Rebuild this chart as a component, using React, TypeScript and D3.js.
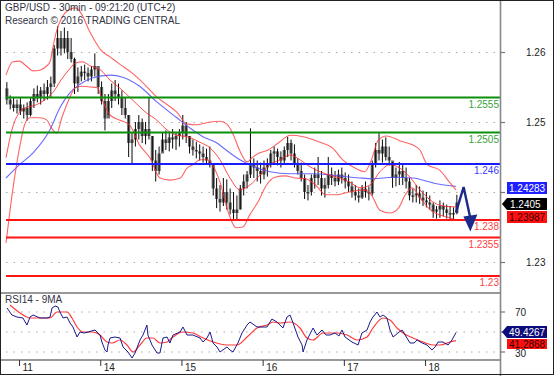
import React from 'react';
import * as d3 from 'd3';

// hourly bars (GBP/USD, 30min chart shown with one bar per hour)
const hourHigh = [
  1.2577,1.2558,1.2555,1.2552,1.2555,1.2545,1.2548,1.2555,1.2568,1.2572,
  1.2570,1.2575,1.2580,1.2585,1.2630,1.2657,1.2650,1.2655,1.2650,1.2640,
  1.2612,1.2598,1.2600,1.2602,1.2598,1.2600,1.2618,1.2595,1.2578,1.2560,
  1.2560,1.2575,1.2580,1.2575,1.2565,1.2555,1.2530,1.2505,1.2520,1.2530,
  1.2525,1.2520,1.2555,1.2500,1.2480,1.2485,1.2505,1.2508,1.2505,1.2510,
  1.2505,1.2510,1.2530,1.2520,1.2500,1.2495,1.2492,1.2488,1.2485,1.2482,
  1.2485,1.2460,1.2440,1.2430,1.2440,1.2438,1.2425,1.2420,1.2415,1.2430,
  1.2445,1.2450,1.2511,1.2468,1.2465,1.2462,1.2465,1.2468,1.2480,1.2485,
  1.2482,1.2478,1.2485,1.2499,1.2495,1.2488,1.2468,1.2462,1.2445,1.2430,
  1.2445,1.2455,1.2470,1.2450,1.2440,1.2470,1.2455,1.2450,1.2452,1.2455,
  1.2448,1.2445,1.2435,1.2430,1.2425,1.2430,1.2435,1.2428,1.2465,1.2490,
  1.2504,1.2495,1.2498,1.2485,1.2463,1.2455,1.2463,1.2460,1.2455,1.2440,
  1.2425,1.2430,1.2428,1.2422,1.2420,1.2415,1.2405,1.2400,1.2408,1.2405,
  1.2402,1.2400,1.2398,1.2416,
];
const hourLow = [
  1.2545,1.2538,1.2535,1.2532,1.2530,1.2525,1.2522,1.2528,1.2540,1.2548,
  1.2545,1.2550,1.2552,1.2555,1.2570,1.2615,1.2615,1.2618,1.2610,1.2605,
  1.2560,1.2563,1.2578,1.2580,1.2578,1.2578,1.2585,1.2560,1.2545,1.2508,
  1.2530,1.2540,1.2550,1.2545,1.2530,1.2525,1.2470,1.2459,1.2485,1.2495,
  1.2490,1.2488,1.2495,1.2450,1.2435,1.2445,1.2478,1.2480,1.2478,1.2482,
  1.2480,1.2485,1.2495,1.2490,1.2475,1.2472,1.2468,1.2465,1.2462,1.2460,
  1.2455,1.2415,1.2397,1.2392,1.2400,1.2395,1.2388,1.2381,1.2381,1.2395,
  1.2415,1.2425,1.2440,1.2440,1.2435,1.2432,1.2438,1.2442,1.2455,1.2460,
  1.2458,1.2455,1.2460,1.2470,1.2465,1.2455,1.2445,1.2435,1.2410,1.2408,
  1.2415,1.2425,1.2430,1.2415,1.2412,1.2425,1.2430,1.2428,1.2430,1.2432,
  1.2425,1.2420,1.2412,1.2408,1.2405,1.2410,1.2412,1.2408,1.2415,1.2455,
  1.2465,1.2462,1.2465,1.2458,1.2426,1.2428,1.2430,1.2430,1.2425,1.2408,
  1.2405,1.2405,1.2403,1.2400,1.2398,1.2395,1.2383,1.2382,1.2383,1.2385,
  1.2382,1.2381,1.2380,1.2388,
];
const hourClose = [
  1.2552,1.2545,1.2540,1.2545,1.2535,1.2540,1.2530,1.2550,1.2560,1.2555,
  1.2565,1.2560,1.2570,1.2575,1.2625,1.2640,1.2625,1.2640,1.2620,1.2610,
  1.2575,1.2585,1.2592,1.2590,1.2585,1.2595,1.2600,1.2570,1.2550,1.2525,
  1.2550,1.2565,1.2560,1.2555,1.2540,1.2530,1.2490,1.2495,1.2510,1.2520,
  1.2500,1.2510,1.2500,1.2465,1.2450,1.2475,1.2495,1.2490,1.2498,1.2495,
  1.2500,1.2505,1.2515,1.2500,1.2485,1.2480,1.2478,1.2475,1.2470,1.2465,
  1.2460,1.2425,1.2410,1.2405,1.2420,1.2405,1.2395,1.2390,1.2395,1.2425,
  1.2435,1.2445,1.2460,1.2455,1.2450,1.2445,1.2455,1.2460,1.2475,1.2478,
  1.2470,1.2465,1.2480,1.2490,1.2475,1.2460,1.2450,1.2440,1.2420,1.2420,
  1.2440,1.2445,1.2440,1.2425,1.2430,1.2445,1.2440,1.2435,1.2445,1.2440,
  1.2435,1.2428,1.2420,1.2415,1.2412,1.2425,1.2420,1.2418,1.2460,1.2480,
  1.2475,1.2485,1.2470,1.2465,1.2440,1.2445,1.2450,1.2440,1.2435,1.2415,
  1.2415,1.2418,1.2412,1.2408,1.2405,1.2402,1.2392,1.2395,1.2400,1.2395,
  1.2390,1.2388,1.2390,1.2405,
];
const firstOpen = 1.2568;

// indicator lines: [bar index (30min), price]
const bbUpper: [number, number][] = [
  [0,1.2587],[4,1.2606],[8,1.2607],[12,1.2600],[16,1.2593],[20,1.2594],[24,1.2600],[26,1.2606],
  [28,1.2630],[30,1.2651],[33,1.2669],[37,1.2680],[41,1.2683],[45,1.2673],[48.5,1.2654],[53,1.2634],
  [56,1.2623],[61.5,1.2613],[67,1.2603],[75,1.2589],[83,1.2571],[89,1.2556],[94,1.2547],[101,1.2534],
  [107,1.2517],[113,1.2516],[120.6,1.2520],[126.5,1.2521],[130.6,1.2517],[134,1.2504],[138,1.2480],
  [142.5,1.2463],[145.4,1.2469],[150,1.2476],[155,1.2480],[161,1.2490],[168,1.2501],[175.6,1.2499],
  [185.6,1.2491],[193,1.2483],[199,1.2466],[205,1.2456],[212,1.2449],[216,1.2466],[220,1.2494],
  [225,1.2500],[233,1.2493],[240.6,1.2487],[244.7,1.2480],[249,1.2459],[256.5,1.2451],[262.5,1.2433],[266,1.2423],
];
const bbMiddle: [number, number][] = [
  [0,1.2469],[4,1.2513],[8,1.2534],[12,1.2541],[16,1.2543],[20,1.2547],[24,1.2554],[28,1.2563],
  [32.5,1.2580],[37,1.2594],[41,1.2604],[45,1.2606],[50,1.2600],[56,1.2594],[61.5,1.2580],[67,1.2569],
  [75,1.2551],[83,1.2533],[89,1.2523],[94,1.2511],[101,1.2501],[107,1.2499],[114.7,1.2491],[120.6,1.2483],
  [126.5,1.2466],[132.4,1.2440],[138.3,1.2423],[144.2,1.2430],[150.1,1.2444],[156,1.2459],[162,1.2466],
  [167.9,1.2473],[173.8,1.2466],[179.7,1.2456],[185.6,1.2449],[191.5,1.2444],[197.4,1.2440],[203.3,1.2434],
  [209.3,1.2426],[215.2,1.2430],[221,1.2449],[227,1.2459],[232.9,1.2454],[238.8,1.2441],[244.7,1.2423],
  [250.6,1.2409],[256.5,1.2401],[262.5,1.2399],[266,1.23987],
];
const bbLower: [number, number][] = [
  [0,1.2347],[4,1.2423],[8,1.2483],[11,1.2516],[14,1.2526],[20,1.2526],[24,1.2523],[27,1.2511],
  [30,1.2504],[33,1.2526],[37,1.2551],[41,1.2569],[45,1.2571],[50,1.2570],[54,1.2569],[57,1.2551],
  [61.5,1.2530],[67,1.2523],[73,1.2516],[79,1.2487],[85,1.2469],[91,1.2440],[97,1.2437],[103,1.2440],
  [107,1.2454],[110.5,1.2459],[114.7,1.2466],[119,1.2466],[122,1.2459],[126.5,1.2434],[131,1.2394],
  [136,1.2369],[140,1.2370],[144,1.2387],[149,1.2406],[154,1.2430],[159,1.2441],[165,1.2443],
  [171,1.2440],[177,1.2439],[183,1.2430],[189,1.2416],[194.5,1.2416],[203,1.2420],[212,1.2423],
  [216,1.2416],[221,1.2394],[227,1.2390],[232,1.2397],[236,1.2416],[240,1.2426],[245,1.2411],
  [251,1.2394],[256.5,1.2387],[262.5,1.2383],[266,1.2380],
];
const maBlue: [number, number][] = [
  [0,1.2440],[8,1.2459],[16,1.2476],[26,1.2509],[32,1.2541],[37.5,1.2561],[43.7,1.2574],[51,1.2583],
  [61.5,1.2587],[69,1.2584],[79,1.2571],[89,1.2549],[101,1.2526],[109,1.2511],[116.4,1.2499],
  [124.7,1.2490],[129.5,1.2481],[138.3,1.2466],[144,1.2459],[156,1.2449],[168,1.2446],[181.5,1.2446],
  [193,1.2444],[209,1.2440],[217,1.2439],[229,1.2441],[240.6,1.2440],[252.4,1.2433],[259,1.2430],[266,1.24283],
];

// RSI14 and its 9MA: [bar index, value]
const rsi14: [number, number][] = [
  [0.6,74],[3.5,67],[6.5,65],[10,64],[12.4,57],[14.2,65],[16,67],[20.1,64],[24.2,64],[26,65],
  [27.2,74],[29,76],[30.7,75],[31.9,70],[33.7,64],[36.1,65],[37.8,59],[39.6,55],[42,45],[43.7,50],
  [46.1,49],[48.5,50],[52.6,52],[55.6,47],[56.7,40],[58.5,32],[59.7,30],[60.3,37],[61.5,44],[64.4,45],
  [67.4,44],[69.2,35],[72.1,30],[74.5,24],[76.3,29],[79.2,42],[81,47],[83.3,57],[83.9,47],[86.3,37],
  [89.3,29],[91,29],[92.8,44],[95.2,45],[96.9,39],[98.7,47],[102.9,50],[104.6,55],[107,47],[110.5,47],
  [114.7,44],[116.5,40],[118.8,44],[120.6,50],[122.4,39],[124.7,35],[126.5,30],[130.6,35],[132.4,32],
  [134.2,30],[137.1,39],[139.5,49],[142.5,57],[144.2,60],[148.4,55],[151.9,55],[154.3,55],[157.2,63],
  [160.2,60],[163.7,54],[166.1,65],[167.9,67],[169.7,59],[172.6,45],[175,37],[175.6,30],[177.9,42],
  [180.9,52],[181.5,54],[183.8,47],[186.8,52],[189.2,47],[191.5,47],[194.5,49],[196.8,46],[198.6,52],
  [200.4,45],[204.5,40],[208.1,37],[210.4,49],[213.4,52],[215.2,60],[216.9,65],[219.3,70],[221.1,65],
  [222.9,67],[225.2,64],[227,52],[228.8,45],[231.7,49],[234.1,52],[235.9,47],[238.8,39],[241.2,39],
  [243,42],[246,39],[248.9,37],[251.8,32],[253.6,35],[255.4,40],[258.3,40],[261.3,37],[263.6,42],[266,49.43],
];
const rsiMA: [number, number][] = [
  [2.4,77],[8.3,69],[14.2,64],[20.1,64],[26,64],[30.1,70],[36.1,70],[39,64],[42,55],[45.5,50],
  [51.4,50],[55.6,47],[59.7,40],[62.7,39],[67.4,42],[71.5,37],[75.1,30],[79.2,37],[83.3,44],[86.9,44],
  [91,39],[95.2,40],[98.7,45],[104.6,50],[110.5,49],[116.5,44],[122.4,40],[130.6,37],[136.5,37],
  [142.5,45],[148.4,54],[154.3,57],[157.8,60],[162,59],[167.9,60],[173.8,54],[177.9,44],[181.5,42],
  [187.4,49],[195.7,49],[201.6,47],[207.5,42],[213.4,45],[216.9,54],[222.9,64],[227,62],[231.1,54],
  [234.7,49],[240.6,44],[246.5,40],[252.4,37],[256.5,37],[262.5,40],[266,41.29],
];

const levels = [1.2555, 1.2505, 1.246, 1.238, 1.2355, 1.23];
const levelLabels = ['1.2555', '1.2505', '1.246', '1.238', '1.2355', '1.23'];
const levelKinds = ['res', 'res', 'pivot', 'sup', 'sup', 'sup'];
const priceTicks = [1.23, 1.24, 1.25, 1.26];
// 1.24 and 50 labels sit fully under the value boxes in the reference
const priceTickLabels = ['1.23', '', '1.25', '1.26'];
const rsiTicks = [30, 50, 70];
const rsiTickLabels = ['30', '', '70'];
const dayLabels = ['11', '14', '15', '16', '17', '18'];
const dayBars = [8, 56, 104, 152, 200, 248];
const forecast: [number, number][] = [[266, 1.2391], [270.5, 1.2427], [274.5, 1.2365]];

const FONT = 'Liberation Sans, Arial, sans-serif';

export default function App() {
  const x = d3.scaleLinear().domain([0, 266]).range([6, 456]);
  const y = d3.scaleLinear().domain([1.23, 1.26]).range([276, 66]);
  const yTick = d3.scaleLinear().domain([1.23, 1.26]).range([262.5, 52.5]);
  const ry = d3.scaleLinear().domain([30, 70]).range([352, 312]);

  const pLine = d3.line<[number, number]>().x(d => x(d[0])).y(d => y(d[1])).curve(d3.curveMonotoneX);
  const rLine = d3.line<[number, number]>().x(d => x(d[0])).y(d => ry(d[1]));
  const rMaLine = d3.line<[number, number]>().x(d => x(d[0])).y(d => ry(d[1])).curve(d3.curveMonotoneX);
  const fLine = d3.line<[number, number]>().x(d => x(d[0])).y(d => y(d[1]));

  const levelColor: Record<string, string> = { res: '#0a900a', pivot: '#1a1aff', sup: '#ff1414' };
  const levelText: Record<string, string> = { res: '#3aa33a', pivot: '#4040ff', sup: '#ff4040' };

  const candles = hourHigh.map((hi, h) => {
    const open = h === 0 ? firstOpen : hourClose[h - 1];
    const close = hourClose[h];
    const cx = x(2 * h + 0.5);
    const top = y(Math.max(open, close));
    const bot = y(Math.min(open, close));
    return (
      <g key={h}>
        <rect x={cx - 1.6} y={top} width={3.2} height={Math.max(1.5, bot - top)} fill="#6e6e6e" />
        <line x1={cx} x2={cx} y1={y(hi)} y2={y(hourLow[h])} stroke="#0a0a0a" strokeWidth={1} />
      </g>
    );
  });

  const fEnd = forecast[forecast.length - 1];
  const tipX = x(fEnd[0]);
  const tipY = y(fEnd[1]);

  return (
    <svg width={554} height={376} style={{ position: 'absolute', left: 0, top: 0, background: '#fff' }}
      fontFamily={FONT}>
      <defs>
        <clipPath id="mainClip"><rect x={1} y={1} width={499} height={291} /></clipPath>
        <clipPath id="rsiClip"><rect x={1} y={294} width={499} height={65} /></clipPath>
      </defs>
      <rect x={0} y={0} width={554} height={376} fill="#fff" />

      {priceTicks.map(t => (
        <line key={t} x1={6} x2={500} y1={yTick(t)} y2={yTick(t)} stroke="#aaa" strokeDasharray="1.5 6" />
      ))}
      {rsiTicks.map(t => (
        <line key={t} x1={6} x2={500} y1={ry(t)} y2={ry(t)} stroke="#aaa" strokeDasharray="1.5 6" />
      ))}

      <g clipPath="url(#mainClip)">
        {candles}
        <path d={pLine(maBlue) || ''} fill="none" stroke="#5050ff" strokeOpacity={0.85} strokeWidth={1.1} />
        <path d={pLine(bbUpper) || ''} fill="none" stroke="#ff3030" strokeOpacity={0.75} strokeWidth={1.1} />
        <path d={pLine(bbMiddle) || ''} fill="none" stroke="#ff2020" strokeOpacity={0.8} strokeWidth={1} />
        <path d={pLine(bbLower) || ''} fill="none" stroke="#ff3030" strokeOpacity={0.75} strokeWidth={1.1} />
        {levels.map((lv, i) => (
          <line key={lv} x1={6} x2={500} y1={y(lv)} y2={y(lv)} stroke={levelColor[levelKinds[i]]} strokeWidth={2} />
        ))}
        <path d={fLine(forecast.slice(0, 2).concat([[fEnd[0], fEnd[1] + 0.0017]])) || ''} fill="none"
          stroke="#1c2a8c" strokeWidth={2.4} strokeLinejoin="miter" />
        <path d={`M${tipX - 7},${tipY - 14} L${tipX + 7},${tipY - 16} L${tipX},${tipY + 1} Z`} fill="#1c2a8c" />
      </g>

      {levels.map((lv, i) => (
        <text key={'l' + lv} x={499} y={y(lv) + 10} textAnchor="end" fontSize={10}
          fill={levelText[levelKinds[i]]}>{levelLabels[i]}</text>
      ))}

      <g clipPath="url(#rsiClip)">
        <path d={rMaLine(rsiMA) || ''} fill="none" stroke="#ff3b3b" strokeWidth={1.2} />
        <path d={rLine(rsi14) || ''} fill="none" stroke="#1a1a8c" strokeWidth={1} />
      </g>

      <line x1={0} x2={500} y1={293} y2={293} stroke="#333" strokeWidth={1} />
      <line x1={0} x2={500} y1={360} y2={360} stroke="#333" strokeWidth={1} />
      <line x1={500.5} x2={500.5} y1={0} y2={376} stroke="#888" strokeWidth={1.6} />
      <rect x={0.5} y={0.5} width={553} height={374} fill="none" stroke="#222" strokeWidth={1} />

      {priceTicks.map((t, i) => (
        <g key={'pt' + t}>
          <line x1={500} x2={505} y1={yTick(t)} y2={yTick(t)} stroke="#777" strokeWidth={1.2} />
          {priceTickLabels[i] && (
            <text x={526} y={yTick(t) + 3.5} fontSize={10} fill="#222">{priceTickLabels[i]}</text>
          )}
        </g>
      ))}
      {rsiTicks.map((t, i) => (
        <g key={'rt' + t}>
          <line x1={500} x2={505} y1={ry(t)} y2={ry(t)} stroke="#777" strokeWidth={1.2} />
          {rsiTickLabels[i] && (
            <text x={515} y={ry(t) + (t === 30 ? 5 : 3.5)} fontSize={10} fill="#222">{rsiTickLabels[i]}</text>
          )}
        </g>
      ))}

      {dayBars.map((b, i) => (
        <g key={'d' + b}>
          <line x1={x(b)} x2={x(b)} y1={360} y2={366} stroke="#333" strokeWidth={1} />
          <text x={x(b) + 3} y={371} fontSize={10} fill="#222">{dayLabels[i]}</text>
        </g>
      ))}

      <rect x={507} y={182} width={40} height={12} fill="#2020ff" />
      <text x={509} y={191.5} fontSize={10} fill="#fff">1.24283</text>
      <path d="M502,204 L507,198 H547 V210 H507 Z" fill="#000" />
      <text x={510} y={208} fontSize={10} fill="#fff">1.2405</text>
      <rect x={507} y={211} width={40} height={12} fill="#ff1010" />
      <text x={509} y={220.5} fontSize={10} fill="#300">1.23987</text>

      <path d="M502,332 L507,326 H547 V338 H507 Z" fill="#0c0c7a" />
      <text x={509} y={336} fontSize={10} fill="#fff">49.4267</text>
      <rect x={507} y={339} width={40} height={10} fill="#ff1010" />
      <text x={509} y={347.5} fontSize={10} fill="#300">41.2868</text>

      <text x={5} y={11} fontSize={10} fill="#333344">GBP/USD - 30min - 09:21:20 (UTC+2)</text>
      <text x={5} y={24} fontSize={10} fill="#333344">Research © 2016 TRADING CENTRAL</text>
      <text x={5} y={303} fontSize={10} fill="#333344">RSI14 - 9MA</text>
    </svg>
  );
}
